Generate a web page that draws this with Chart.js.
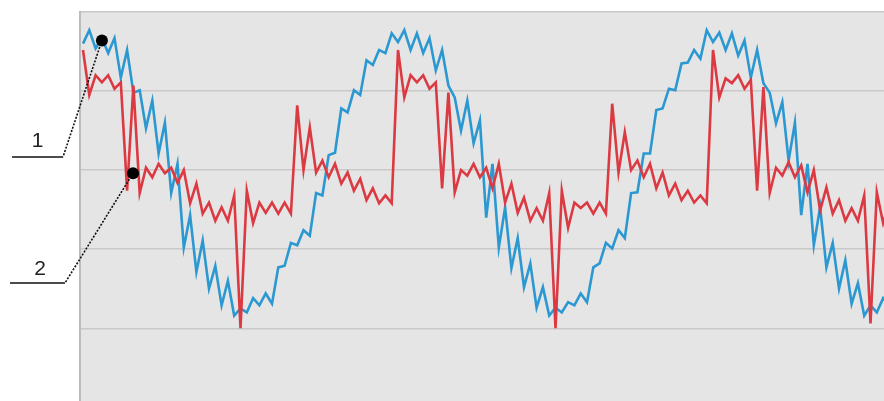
<!DOCTYPE html>
<html>
<head>
<meta charset="utf-8">
<script src="https://cdn.jsdelivr.net/npm/chart.js@4.4.1/dist/chart.umd.min.js"></script>
<style>
  html, body { margin: 0; padding: 0; background: #fff; overflow: hidden; }
  #grafico { display: block; }
</style>
</head>
<body>
<canvas id="grafico" width="884" height="401"></canvas>
<script>
// curva 1 (azul) - uma amostra por posição
const curvaAzul = [
  160, 177, 154, 167, 148, 167, 117, 152, 98, 101,
  53, 88, 21, 60, -29, 8, -98, -57, -129, -89,
  -150, -121, -171, -140, -184, -175, -180, -162, -171, -156,
  -169, -123, -121, -92, -95, -76, -83, -29, -32, 19,
  22, 78, 73, 101, 95, 139, 133, 152, 148, 173,
  162, 177, 152, 173, 148, 167, 126, 152, 107, 92,
  50, 88, 34, 63, -60, 8, -98, -47, -124, -86,
  -148, -118, -174, -148, -184, -174, -180, -167, -171, -156,
  -167, -123, -118, -92, -99, -76, -86, -29, -28, 21,
  21, 76, 78, 103, 101, 135, 136, 152, 141, 177,
  162, 174, 152, 173, 145, 164, 117, 152, 110, 98,
  59, 86, 12, 60, -57, 8, -95, -47, -123, -92,
  -150, -114, -169, -143, -184, -171, -180, -162, -171
];

// curva 2 (vermelha)
const curvaVermelha = [
  152, 95, 120, 111, 120, 103, 111, -26, 107, -29,
  3, -9, 8, -4, 3, -16, 0, -42, -17, -55,
  -41, -64, -47, -64, -32, -200, -26, -67, -41, -54,
  -41, -55, -41, -55, 82, 0, 54, -3, 12, -9,
  8, -17, -3, -26, -11, -38, -23, -42, -32, -42,
  152, 92, 120, 111, 120, 103, 111, -23, 98, -28,
  0, -7, 8, -9, 3, -23, 8, -41, -17, -54,
  -35, -64, -48, -64, -29, -200, -26, -73, -41, -48,
  -41, -55, -41, -55, 84, -3, 48, 0, 12, -9,
  8, -23, -3, -32, -17, -38, -26, -41, -32, -42,
  152, 92, 116, 110, 120, 103, 114, -26, 105, -29,
  3, -7, 10, -9, 6, -28, 0, -51, -22, -55,
  -38, -64, -48, -64, -32, -194, -28, -67, -41
];

const marcasY = [-200, -100, 0, 100, 200];

// chamadas numeradas: posição do ponto preto em unidades do gráfico
const chamadas = [
  { rotulo: '1', amostra: 3, valor: 164, cotovelo: { dx: -17, dy: 145 }, fim: -68, texto: { dx: -42.5, dy: 135 } },
  { rotulo: '2', amostra: 7.94, valor: -4, cotovelo: { dx: -15, dy: 271 }, fim: -70, texto: { dx: -40, dy: 263 } }
];

const pontos = serie => serie.map((v, i) => ({ x: i, y: v }));

const fundo = {
  id: 'fundo',
  beforeDraw(chart) {
    const { ctx, chartArea: a } = chart;
    ctx.save();
    ctx.fillStyle = '#e5e5e5';
    ctx.fillRect(a.left, a.top, a.right - a.left, a.bottom - a.top);
    ctx.restore();
  }
};

const rotulos = {
  id: 'rotulos',
  afterDraw(chart) {
    const { ctx, chartArea: a, scales: { x, y } } = chart;
    ctx.save();
    for (const c of chamadas) {
      const px = x.getPixelForValue(c.amostra);
      const py = y.getPixelForValue(c.valor);
      const ex = a.left + c.cotovelo.dx;
      const ey = a.top + c.cotovelo.dy;

      ctx.strokeStyle = '#111';
      ctx.lineWidth = 1.6;
      ctx.setLineDash([2, 1.5]);
      ctx.beginPath();
      ctx.moveTo(px, py);
      ctx.lineTo(ex, ey);
      ctx.stroke();

      ctx.setLineDash([]);
      ctx.beginPath();
      ctx.moveTo(ex, ey);
      ctx.lineTo(a.left + c.fim, ey);
      ctx.stroke();

      ctx.fillStyle = '#000';
      ctx.beginPath();
      ctx.arc(px, py, 6, 0, Math.PI * 2);
      ctx.fill();

      ctx.fillStyle = '#222';
      ctx.font = '21px "Liberation Sans", Arial, sans-serif';
      ctx.textAlign = 'center';
      ctx.textBaseline = 'alphabetic';
      ctx.fillText(c.rotulo, a.left + c.texto.dx, a.top + c.texto.dy);
    }
    ctx.restore();
  }
};

new Chart(document.getElementById('grafico'), {
  type: 'line',
  data: {
    datasets: [
      {
        label: '2',
        data: pontos(curvaVermelha),
        borderColor: '#dc3a42',
        borderWidth: 2.6,
        pointRadius: 0,
        tension: 0,
        order: 1
      },
      {
        label: '1',
        data: pontos(curvaAzul),
        borderColor: '#2b98d2',
        borderWidth: 2.6,
        pointRadius: 0,
        tension: 0,
        order: 2
      }
    ]
  },
  options: {
    responsive: false,
    animation: false,
    devicePixelRatio: 1,
    layout: { padding: { left: 80, top: 12, right: 0, bottom: 0 } },
    plugins: {
      legend: { display: false },
      tooltip: { enabled: false }
    },
    scales: {
      x: {
        type: 'linear',
        min: -0.476,
        max: 127.14,
        display: false
      },
      y: {
        min: -292,
        max: 200,
        afterBuildTicks: s => { s.ticks = marcasY.map(v => ({ value: v })); },
        afterFit: s => { s.width = 0; },
        ticks: { display: false },
        grid: { color: '#c9c9c9', lineWidth: 1.5, drawTicks: false },
        border: { display: true, color: '#bcbcbc', width: 2 }
      }
    }
  },
  plugins: [fundo, rotulos]
});
</script>
</body>
</html>
